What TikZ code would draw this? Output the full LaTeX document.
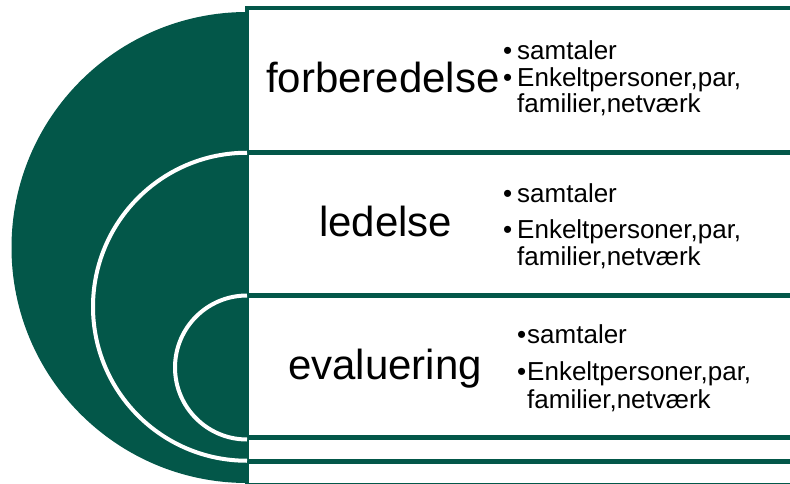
\documentclass[tikz,border=0pt]{standalone}
\usepackage{fontspec}
\setmainfont{Liberation Sans}
\definecolor{dgreen}{RGB}{3,87,73}
\begin{document}
\begin{tikzpicture}[x=1pt,y=-1pt,
  panel/.style={draw=dgreen,line width=4.5pt,fill=white},
  disc/.style={fill=dgreen},
  ring/.style={draw=white,line width=4pt},
  title/.style={anchor=base west,inner sep=0pt,font=\fontsize{42}{50}\selectfont},
  item/.style={anchor=base west,inner sep=0pt,font=\fontsize{26}{30}\selectfont},
]
\useasboundingbox (0,0) rectangle (790,484);
\clip (0,0) rectangle (790,484);
% outer level
\fill[disc] (247,12) arc[start angle=-90,end angle=-270,radius=235.5] -- cycle;
\draw[panel] (247,8) rectangle (820,485.5);
% middle level
\draw[panel] (247,152.5) rectangle (820,461.5);
\fill[disc] (247,152.75) arc[start angle=-90,end angle=-270,radius=154] -- cycle;
\draw[ring] (247,152.75) arc[start angle=-90,end angle=-270,radius=154];
% inner level
\draw[panel] (247,295.5) rectangle (820,437.5);
\fill[disc] (247,295.5) arc[start angle=-90,end angle=-270,radius=72] -- cycle;
\draw[ring] (247,295.5) arc[start angle=-90,end angle=-270,radius=72];
% texts level 1
\node[title] (t1) at (266,93) {forberedelse};
\node[item] (b1a) at (503,60) {•};
\node[item] (s1a) at (517,60) {samtaler};
\node[item] (b1b) at (503,87) {•};
\node[item] (s1b) at (517,87) {Enkeltpersoner,par,};
\node[item] (s1c) at (517,113) {familier,netværk};
% texts level 2
\node[title] (t2) at (319,236) {ledelse};
\node[item] (b2a) at (503,202) {•};
\node[item] (s2a) at (517,202) {samtaler};
\node[item] (b2b) at (503,238) {•};
\node[item] (s2b) at (517,238) {Enkeltpersoner,par,};
\node[item] (s2c) at (517,265) {familier,netværk};
% texts level 3
\node[title] (t3) at (288,379) {evaluering};
\node[item] (b3a) at (517,343) {•};
\node[item] (s3a) at (527,343) {samtaler};
\node[item] (b3b) at (517,380) {•};
\node[item] (s3b) at (527,380) {Enkeltpersoner,par,};
\node[item] (s3c) at (527,408) {familier,netværk};
\end{tikzpicture}
\end{document}
